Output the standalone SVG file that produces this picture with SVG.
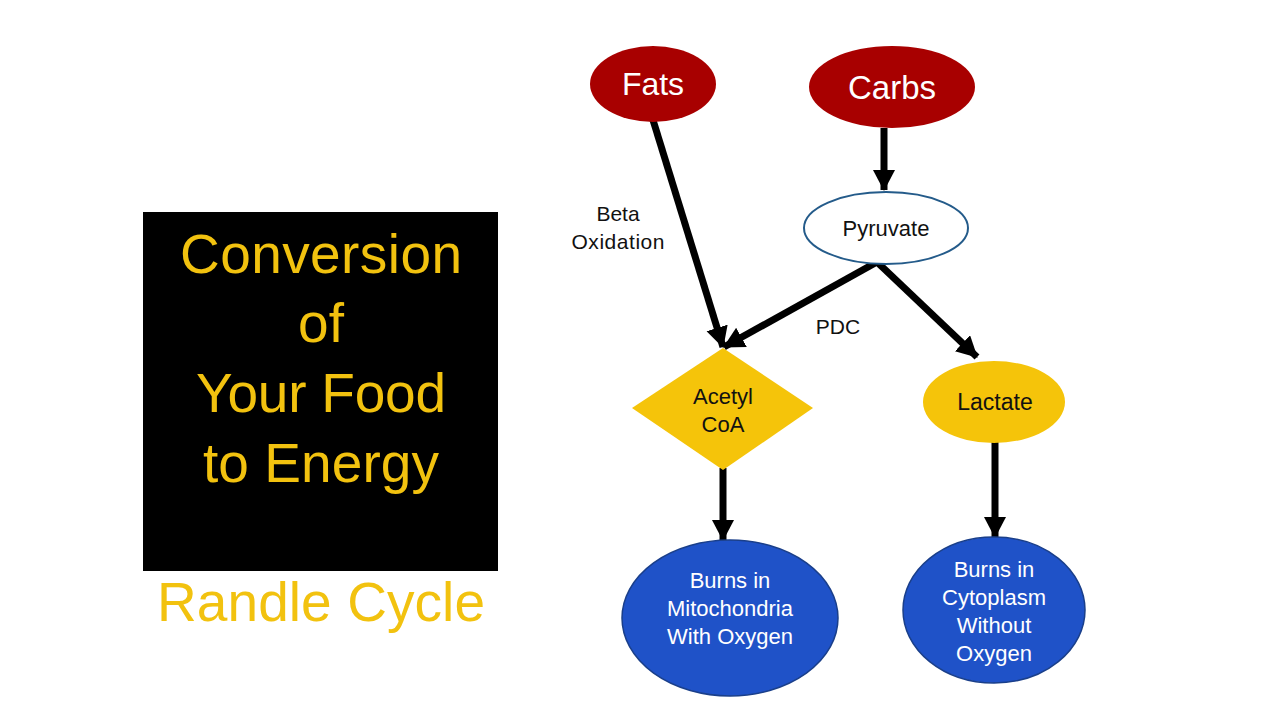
<svg xmlns="http://www.w3.org/2000/svg" width="1280" height="720" viewBox="0 0 1280 720">
<defs>
<marker id="ah" markerUnits="userSpaceOnUse" markerWidth="24" markerHeight="24" refX="20" refY="11" orient="auto">
<path d="M0,0 L21,11 L0,22 z" fill="#000"/>
</marker>
<style>
.t{font-family:"Liberation Sans",Arial,sans-serif;text-anchor:middle}
.title{fill:#F2C20F;font-size:55px}
.red{fill:#A80000}
.wt{fill:#fff}
.lbl{fill:#111;font-size:21px}
.nd{font-size:22px}
.yel{fill:#F5C40A}
.blue{fill:#1F52C8;stroke:#1A3F8A;stroke-width:1.5}
.conn line{stroke:#000;stroke-width:7;marker-end:url(#ah)}
</style>
</defs>
<rect width="1280" height="720" fill="#fff"/>
<g id="titlebox">
<rect x="143" y="212" width="355" height="359" fill="#000"/>
<text class="t title" x="321" y="273" textLength="282">Conversion</text>
<text class="t title" x="321" y="342">of</text>
<text class="t title" x="321" y="412" textLength="250">Your Food</text>
<text class="t title" x="321" y="482" textLength="236">to Energy</text>
</g>
<g id="subtitle">
<text class="t title" x="321" y="621" textLength="328">Randle Cycle</text>
</g>
<g class="conn" id="connectors">
<line x1="653" y1="120" x2="723" y2="347"/>
<line x1="884" y1="128" x2="884" y2="190"/>
<line x1="877" y1="262" x2="724" y2="347"/>
<line x1="877" y1="262" x2="977" y2="357"/>
<line x1="723" y1="468" x2="723" y2="540"/>
<line x1="995" y1="442" x2="995" y2="537"/>
</g>
<g id="fats">
<ellipse class="red" cx="653" cy="84" rx="63" ry="38"/>
<text class="t wt" x="653" y="95" style="font-size:32px">Fats</text>
</g>
<g id="carbs">
<ellipse class="red" cx="892" cy="87" rx="83" ry="41"/>
<text class="t wt" x="892" y="99" style="font-size:33px">Carbs</text>
</g>
<g id="pyruvate">
<ellipse cx="886" cy="228" rx="82" ry="36" fill="#fff" stroke="#245B8A" stroke-width="2"/>
<text class="t lbl" x="886" y="236" style="font-size:22px">Pyruvate</text>
</g>
<g id="acetyl">
<polygon class="yel" points="723,348 813,408 723,470 632,408"/>
<text class="t lbl nd" x="723" y="404">Acetyl</text>
<text class="t lbl nd" x="723" y="432">CoA</text>
</g>
<g id="lactate">
<ellipse class="yel" cx="994" cy="402" rx="71" ry="41"/>
<text class="t lbl" x="995" y="410" style="font-size:23px">Lactate</text>
</g>
<g id="mito">
<ellipse class="blue" cx="730" cy="618" rx="108" ry="78"/>
<text class="t wt nd" x="730" y="588">Burns in</text>
<text class="t wt nd" x="730" y="616">Mitochondria</text>
<text class="t wt nd" x="730" y="644">With Oxygen</text>
</g>
<g id="cyto">
<ellipse class="blue" cx="994" cy="610" rx="91" ry="73"/>
<text class="t wt nd" x="994" y="577">Burns in</text>
<text class="t wt nd" x="994" y="605">Cytoplasm</text>
<text class="t wt nd" x="994" y="633">Without</text>
<text class="t wt nd" x="994" y="661">Oxygen</text>
</g>
<g id="labels">
<text class="t lbl" x="618" y="221">Beta</text>
<text class="t lbl" x="618" y="249" textLength="93">Oxidation</text>
<text class="t lbl" x="838" y="334">PDC</text>
</g>
</svg>
